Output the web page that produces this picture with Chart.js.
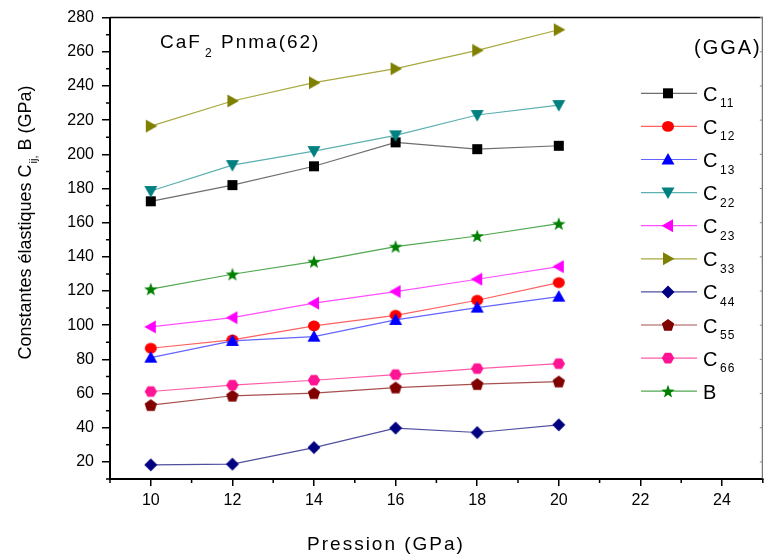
<!DOCTYPE html>
<html>
<head>
<meta charset="utf-8">
<script src="https://cdn.jsdelivr.net/npm/chart.js@4/dist/chart.umd.min.js"></script>
<style>
  html, body { margin: 0; padding: 0; background: #fff; }
  #chart { display: block; }
</style>
</head>
<body>
<canvas id="chart" width="771" height="560"></canvas>
<script>
// Pressure (GPa) and elastic constants (GPa)
const pressure = [10, 12, 14, 16, 18, 20];
const c11 = [172.5, 182, 193, 207, 203, 205];
const c12 = [86.5, 91.4, 99.6, 105.8, 114.6, 124.9];
const c13 = [81, 90.8, 93.3, 103.1, 110.3, 116.7];
const c22 = [178.5, 193.7, 201.9, 211.1, 223, 228.8];
const c23 = [99, 104.4, 112.9, 119.7, 126.9, 134.3];
const c33 = [216.5, 231.2, 241.9, 250.1, 260.8, 272.9];
const c44 = [18.3, 18.7, 28.4, 39.8, 37.2, 41.7];
const c55 = [53.2, 58.7, 60.2, 63.5, 65.5, 67];
const c66 = [61.2, 64.9, 67.8, 71.1, 74.6, 77.5];
const bulk = [121.1, 129.8, 137.2, 146, 152.2, 159.4];

const xTicks = [10, 12, 14, 16, 18, 20, 22, 24];
const yTicks = [20, 40, 60, 80, 100, 120, 140, 160, 180, 200, 220, 240, 260, 280];

const FONT = '"Liberation Sans", Arial, sans-serif';

// draw a marker shape centred on (x, y)
function drawMarker(ctx, shape, x, y, color) {
    ctx.save();
    ctx.fillStyle = color;
    ctx.beginPath();
    if (shape === 'square') {
        ctx.rect(x - 5, y - 5, 10, 10);
    } else if (shape === 'circle') {
        ctx.ellipse(x, y, 6, 5.4, 0, 0, Math.PI * 2);
    } else if (shape === 'up') {
        ctx.moveTo(x, y - 6.5); ctx.lineTo(x + 6.5, y + 5); ctx.lineTo(x - 6.5, y + 5);
    } else if (shape === 'down') {
        ctx.moveTo(x, y + 6.5); ctx.lineTo(x + 6.5, y - 5); ctx.lineTo(x - 6.5, y - 5);
    } else if (shape === 'left') {
        ctx.moveTo(x - 6.5, y); ctx.lineTo(x + 5, y - 6.5); ctx.lineTo(x + 5, y + 6.5);
    } else if (shape === 'right') {
        ctx.moveTo(x + 6.5, y); ctx.lineTo(x - 5, y - 6.5); ctx.lineTo(x - 5, y + 6.5);
    } else if (shape === 'diamond') {
        ctx.moveTo(x, y - 6.5); ctx.lineTo(x + 6.5, y); ctx.lineTo(x, y + 6.5); ctx.lineTo(x - 6.5, y);
    } else if (shape === 'pentagon') {
        for (let i = 0; i < 5; i++) {
            const a = -Math.PI / 2 + i * 2 * Math.PI / 5;
            ctx.lineTo(x + 6.5 * Math.cos(a), y + 0.5 + 6.5 * Math.sin(a));
        }
    } else if (shape === 'hexagon') {
        for (let i = 0; i < 6; i++) {
            const a = i * Math.PI / 3;
            ctx.lineTo(x + 6.2 * Math.cos(a), y + 6.2 * Math.sin(a));
        }
    } else if (shape === 'star') {
        for (let i = 0; i < 10; i++) {
            const a = -Math.PI / 2 + i * Math.PI / 5;
            const r = i % 2 === 0 ? 7 : 2.9;
            ctx.lineTo(x + r * Math.cos(a), y + 0.6 + r * Math.sin(a));
        }
    }
    ctx.closePath();
    ctx.fill();
    ctx.restore();
}

function markerImage(shape, color) {
    const c = document.createElement('canvas');
    c.width = 16; c.height = 16;
    drawMarker(c.getContext('2d'), shape, 8, 8, color);
    return c;
}

const series = [
    { name: '11', data: c11, shape: 'square', mark: '#000000', line: '#6e6e6e' },
    { name: '12', data: c12, shape: 'circle', mark: '#ff0000', line: '#ff6060' },
    { name: '13', data: c13, shape: 'up', mark: '#0000ff', line: '#6464ff' },
    { name: '22', data: c22, shape: 'down', mark: '#008080', line: '#5cb0b0' },
    { name: '23', data: c23, shape: 'left', mark: '#ff00ff', line: '#ff50ff' },
    { name: '33', data: c33, shape: 'right', mark: '#808000', line: '#a8a840' },
    { name: '44', data: c44, shape: 'diamond', mark: '#000080', line: '#5050a0' },
    { name: '55', data: c55, shape: 'pentagon', mark: '#800000', line: '#a85050' },
    { name: '66', data: c66, shape: 'hexagon', mark: '#ff1493', line: '#ff5ca8' },
    { name: 'B', data: bulk, shape: 'star', mark: '#008000', line: '#50a850' }
];

const datasets = series.map((s, i) => ({
    label: s.name === 'B' ? 'B' : 'C' + s.name,
    data: pressure.map((p, j) => ({ x: p, y: s.data[j] })),
    borderColor: s.line,
    borderWidth: 1.2,
    pointStyle: markerImage(s.shape, s.mark),
    pointRadius: 7,
    fill: false,
    tension: 0,
    order: -i
}));

// extra drawing: frame, minor ticks, titles, legend
const decorations = {
    id: 'decorations',
    afterDraw(chart) {
        const ctx = chart.ctx;
        const area = chart.chartArea;
        const xs = chart.scales.x, ys = chart.scales.y;
        ctx.save();

        // top and right frame
        ctx.strokeStyle = '#000';
        ctx.lineWidth = 1.5;
        ctx.beginPath();
        ctx.moveTo(area.left, area.top);
        ctx.lineTo(area.right, area.top);
        ctx.stroke();
        ctx.strokeStyle = '#555';
        ctx.lineWidth = 1;
        ctx.beginPath();
        ctx.moveTo(area.right - 0.5, area.top);
        ctx.lineTo(area.right - 0.5, area.bottom);
        ctx.stroke();

        // minor ticks
        ctx.strokeStyle = '#000';
        ctx.lineWidth = 1.5;
        ctx.beginPath();
        for (let v = 9; v <= 25; v += 2) {
            const px = xs.getPixelForValue(v);
            ctx.moveTo(px, area.bottom);
            ctx.lineTo(px, area.bottom + 4);
        }
        for (let v = 10; v <= 270; v += 20) {
            const py = ys.getPixelForValue(v);
            ctx.moveTo(area.left, py);
            ctx.lineTo(area.left - 4, py);
        }
        ctx.stroke();

        // small inner ticks on right frame
        ctx.strokeStyle = '#888';
        ctx.lineWidth = 1;
        ctx.beginPath();
        yTicks.forEach(v => {
            const py = ys.getPixelForValue(v);
            ctx.moveTo(area.right, py);
            ctx.lineTo(area.right - 3, py);
        });
        ctx.stroke();

        ctx.fillStyle = '#000';
        ctx.textBaseline = 'alphabetic';

        // compound label
        ctx.letterSpacing = '2px';
        ctx.font = '19px ' + FONT;
        ctx.fillText('CaF', 160, 48);
        let w = ctx.measureText('CaF').width;
        ctx.font = '12px ' + FONT;
        ctx.fillText('2', 160 + w + 3, 57);
        ctx.font = '19px ' + FONT;
        ctx.fillText('Pnma(62)', 221, 48);

        ctx.font = '20px ' + FONT;
        ctx.fillText('(GGA)', 694, 54);

        // x axis title
        ctx.letterSpacing = '2px';
        ctx.font = '19px ' + FONT;
        ctx.textAlign = 'center';
        ctx.fillText('Pression (GPa)', 386, 550);
        ctx.textAlign = 'left';

        // y axis title with subscript
        ctx.letterSpacing = '0px';
        const p1 = 'Constantes élastiques C', p2 = 'ij,', p3 = ' B (GPa)';
        ctx.font = '18px ' + FONT;
        const w1 = ctx.measureText(p1).width, w3 = ctx.measureText(p3).width;
        ctx.font = '11px ' + FONT;
        const w2 = ctx.measureText(p2).width;
        const total = w1 + w2 + w3;
        ctx.translate(31, 223 + total / 2);
        ctx.rotate(-Math.PI / 2);
        ctx.font = '18px ' + FONT;
        ctx.fillText(p1, 0, 0);
        ctx.font = '11px ' + FONT;
        ctx.fillText(p2, w1 + 1, 6);
        ctx.font = '18px ' + FONT;
        ctx.fillText(p3, w1 + w2 + 1, 0);
        ctx.setTransform(1, 0, 0, 1, 0, 0);

        // legend
        const rowTop = 93.3, rowStep = 33.1;
        series.forEach((s, i) => {
            const y = rowTop + i * rowStep;
            ctx.strokeStyle = s.line;
            ctx.lineWidth = 1.2;
            ctx.beginPath();
            ctx.moveTo(641, y);
            ctx.lineTo(697, y);
            ctx.stroke();
            drawMarker(ctx, s.shape, 668, y, s.mark);
            ctx.fillStyle = '#000';
            ctx.letterSpacing = '0px';
            if (s.name === 'B') {
                ctx.font = '20px ' + FONT;
                ctx.fillText('B', 703, y + 7.5);
            } else {
                ctx.font = '20px ' + FONT;
                ctx.fillText('C', 703, y + 7.5);
                ctx.letterSpacing = '1px';
                ctx.font = '12px ' + FONT;
                ctx.fillText(s.name, 720, y + 14);
            }
        });
        ctx.restore();
    }
};

new Chart(document.getElementById('chart').getContext('2d'), {
    type: 'line',
    data: { datasets: datasets },
    options: {
        responsive: false,
        animation: false,
        events: [],
        layout: { padding: { top: 16, right: 1, left: 0, bottom: 0 } },
        plugins: {
            legend: { display: false },
            tooltip: { enabled: false }
        },
        scales: {
            x: {
                type: 'linear',
                min: 9,
                max: 25,
                afterBuildTicks: s => { s.ticks = xTicks.map(v => ({ value: v })); },
                afterFit: s => { s.height = 81; },
                ticks: { color: '#000', font: { family: FONT, size: 16 }, padding: 5, maxRotation: 0 },
                grid: { drawOnChartArea: false, drawTicks: true, tickLength: 7, color: '#000', lineWidth: 1.5 },
                border: { color: '#000', width: 2 }
            },
            y: {
                type: 'linear',
                min: 10,
                max: 280,
                afterBuildTicks: s => { s.ticks = yTicks.map(v => ({ value: v })); },
                afterFit: s => { s.width = 110; },
                ticks: { color: '#000', font: { family: FONT, size: 16 }, padding: 8 },
                grid: { drawOnChartArea: false, drawTicks: true, tickLength: 8, color: '#000', lineWidth: 1.5 },
                border: { color: '#000', width: 2 }
            }
        }
    },
    plugins: [decorations]
});
</script>
</body>
</html>
